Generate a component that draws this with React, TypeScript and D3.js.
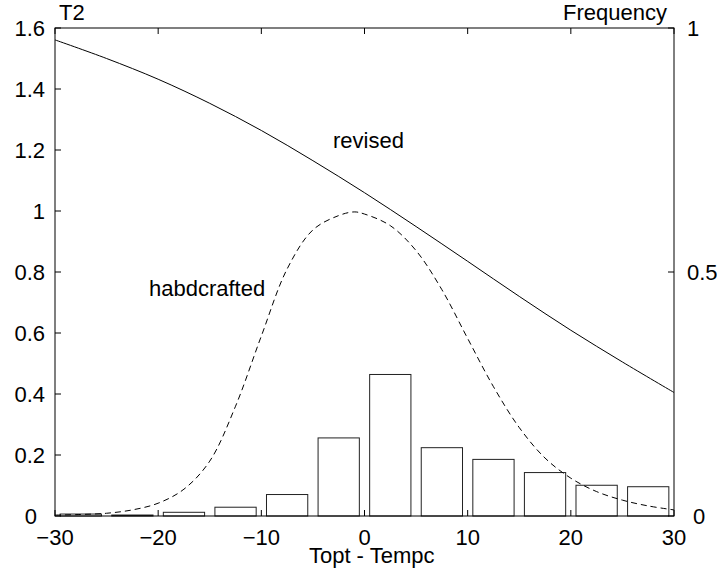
import React from "react";
import * as d3 from "d3";

const xTicks = [-30, -20, -10, 0, 10, 20, 30];
const yLeftTicks = [0, 0.2, 0.4, 0.6, 0.8, 1, 1.2, 1.4, 1.6];
const yRightTicks = [0, 0.5, 1];

const binCenters = [-27.5, -22.5, -17.5, -12.5, -7.5, -2.5, 2.5, 7.5, 12.5, 17.5, 22.5, 27.5];
const frequency = [0.004, 0.002, 0.0076, 0.018, 0.044, 0.16, 0.29, 0.14, 0.116, 0.089, 0.063, 0.06];

const revisedX = [-30, -25, -20, -15, -10, -5, 0, 5, 10, 15, 20, 25, 30];
const revisedY = [1.561, 1.5, 1.432, 1.353, 1.264, 1.165, 1.06, 0.949, 0.835, 0.72, 0.609, 0.505, 0.405];

const handX = [-30, -27.5, -25, -22.5, -20, -17.5, -15, -12.5, -10, -7.5, -5, -2.5, -1, 0, 2.5, 5, 7.5, 10, 12.5, 15, 17.5, 20, 22.5, 25, 27.5, 30];
const handY = [0.003, 0.005, 0.009, 0.02, 0.042, 0.088, 0.18, 0.36, 0.59, 0.81, 0.938, 0.985, 0.997, 0.99, 0.952, 0.87, 0.742, 0.582, 0.424, 0.29, 0.19, 0.124, 0.08, 0.052, 0.033, 0.02];

const L = 55, R = 674, T = 28, B = 516;
const FONT = "'Liberation Sans', Arial, Helvetica, sans-serif";

export default function App() {
  const x = d3.scaleLinear().domain([-30, 30]).range([L, R]);
  const yL = d3.scaleLinear().domain([0, 1.6]).range([B, T]);
  const yR = d3.scaleLinear().domain([0, 1]).range([B, T]);

  const line = d3.line<[number, number]>().x(d => x(d[0])).y(d => yL(d[1])).curve(d3.curveCatmullRom.alpha(0.5));
  const revisedPath = line(revisedX.map((v, i) => [v, revisedY[i]]) as [number, number][]) || "";
  const handPath = line(handX.map((v, i) => [v, handY[i]]) as [number, number][]) || "";

  const bw = x(4) - x(0);
  const fmt = (v: number) => (v < 0 ? "\u2212" + Math.abs(v) : String(v));

  return (
    <svg width={717} height={571} style={{ position: "absolute", left: 0, top: 0, background: "#fff" }} fontFamily={FONT}>
      <rect x={0} y={0} width={717} height={571} fill="#fff" />
      {binCenters.map((c, i) => (
        <rect key={i} x={x(c) - bw / 2} y={yR(frequency[i])} width={bw} height={B - yR(frequency[i])}
          fill="none" stroke="#222" strokeWidth={1} />
      ))}
      <path d={handPath} fill="none" stroke="#000" strokeWidth={1} strokeDasharray="6,4" />
      <path d={revisedPath} fill="none" stroke="#000" strokeWidth={1} />
      <rect x={L} y={T} width={R - L} height={B - T} fill="none" stroke="#000" strokeWidth={1} />
      {xTicks.map(t => (
        <g key={t}>
          <line x1={x(t)} x2={x(t)} y1={B} y2={B - 6} stroke="#000" />
          <line x1={x(t)} x2={x(t)} y1={T} y2={T + 6} stroke="#000" />
          <text x={x(t)} y={545} fontSize={22} textAnchor="middle">{fmt(t)}</text>
        </g>
      ))}
      {yLeftTicks.map(t => (
        <g key={t}>
          <line x1={L} x2={L + 6} y1={yL(t)} y2={yL(t)} stroke="#000" />
          <text x={t === 0 ? 37 : 45} y={yL(t) + 8} fontSize={22} textAnchor="end">{d3.format("~g")(t)}</text>
        </g>
      ))}
      {yRightTicks.map(t => (
        <g key={t}>
          <line x1={R} x2={R - 6} y1={yR(t)} y2={yR(t)} stroke="#000" />
          <text x={t === 0 ? 693 : 687} y={yR(t) + 8} fontSize={22} textAnchor="start">{d3.format("~g")(t)}</text>
        </g>
      ))}
      <text x={59} y={20} fontSize={22}>T2</text>
      <text x={667} y={20} fontSize={22} textAnchor="end">Frequency</text>
      <text x={371.7} y={563} fontSize={22} textAnchor="middle">Topt - Tempc</text>
      <text x={333} y={148} fontSize={22}>revised</text>
      <text x={149} y={296} fontSize={22}>habdcrafted</text>
    </svg>
  );
}
